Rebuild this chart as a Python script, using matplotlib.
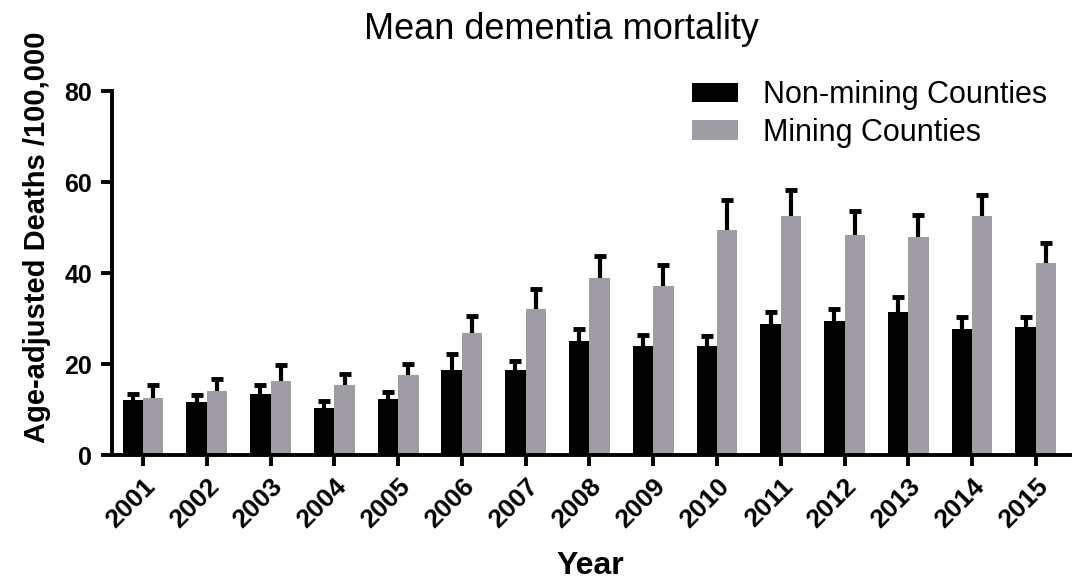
import numpy as np
import matplotlib.pyplot as plt

plt.rcParams['font.family'] = ['Liberation Sans', 'DejaVu Sans']

years = ['2001', '2002', '2003', '2004', '2005', '2006', '2007', '2008',
         '2009', '2010', '2011', '2012', '2013', '2014', '2015']
non_mining = [12.2, 11.6, 13.4, 10.4, 12.4, 18.8, 18.7, 25.1,
              24.0, 24.0, 28.9, 29.5, 31.5, 27.8, 28.1]
non_mining_err = [1.3, 1.7, 2.0, 1.5, 1.5, 3.4, 2.0, 2.6,
                  2.4, 2.2, 2.6, 2.7, 3.2, 2.6, 2.3]
mining = [12.5, 14.1, 16.3, 15.5, 17.6, 26.9, 32.2, 38.9,
          37.1, 49.5, 52.6, 48.5, 48.0, 52.5, 42.3]
mining_err = [2.9, 2.6, 3.5, 2.3, 2.4, 3.6, 4.4, 4.8,
              4.8, 6.7, 5.8, 5.1, 4.8, 4.6, 4.4]


def up_errorbar(ax, xs, ys, errs):
    # only the upper half of the error bar, cap on top only
    eb = ax.errorbar(xs, ys, yerr=[np.zeros(len(xs)), errs], fmt='none',
                     ecolor='black', elinewidth=3, capsize=4, capthick=3.5,
                     zorder=3)
    eb[1][0].set_visible(False)


def main():
    fig = plt.figure(figsize=(10.75, 5.85), dpi=100)
    ax = fig.add_axes([0.104, 0.222, 0.891, 0.622])

    x = np.arange(len(years))
    w = 0.32
    ax.bar(x - w / 2, non_mining, w, color='black',
           label='Non-mining Counties')
    ax.bar(x + w / 2, mining, w, color='#9f9da3',
           label='Mining Counties')
    up_errorbar(ax, x - w / 2, non_mining, non_mining_err)
    up_errorbar(ax, x + w / 2, mining, mining_err)

    ax.set_xlim(-0.49, 14.53)
    ax.set_ylim(0, 80)
    ax.set_yticks([0, 20, 40, 60, 80])
    ax.set_xticks(x)
    ax.set_xticklabels(years, rotation=45, ha='right', rotation_mode='anchor',
                       fontsize=19, fontweight='bold')
    for lab in ax.get_yticklabels():
        lab.set_fontsize(18)
        lab.set_fontweight('bold')

    for side in ['top', 'right']:
        ax.spines[side].set_visible(False)
    for side in ['left', 'bottom']:
        ax.spines[side].set_linewidth(2.8)
    ax.tick_params(width=2.8, length=8)
    ax.tick_params(axis='y', pad=6)
    ax.tick_params(axis='x', pad=6)

    ax.set_ylabel('Age-adjusted Deaths /100,000', fontsize=21,
                  fontweight='bold')
    ax.yaxis.set_label_coords(-0.063, 0.60)
    ax.set_xlabel('Year', fontsize=23, fontweight='bold', labelpad=13)
    fig.text(0.522, 0.949, 'Mean dementia mortality', fontsize=26,
             ha='center', va='center')

    ax.legend(loc='upper left', bbox_to_anchor=(0.606, 1.03), frameon=False,
              fontsize=22, handlelength=1.5, handleheight=0.62,
              handletextpad=0.8, labelspacing=0.25, borderpad=0,
              borderaxespad=0)

    fig.savefig('out.png', dpi=100)


if __name__ == '__main__':
    main()
